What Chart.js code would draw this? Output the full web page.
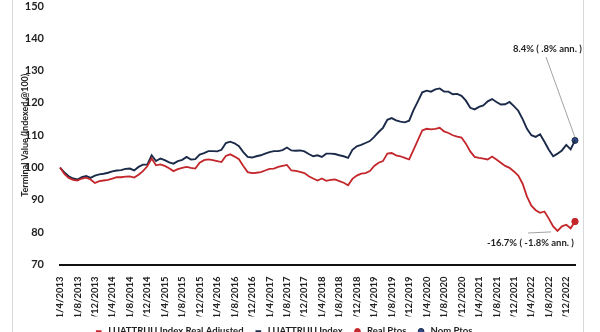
<!DOCTYPE html>
<html>
<head>
<meta charset="utf-8">
<script src="https://cdn.jsdelivr.net/npm/chart.js@4/dist/chart.umd.min.js"></script>
<style>
  html, body { margin: 0; padding: 0; background: #fff; overflow: hidden; }
  #wrap { position: relative; width: 600px; height: 346px; }
  #frame { position: absolute; left: 12px; top: 0; width: 572px; height: 346px;
           border-left: 1px solid #d8d8d8; border-right: 1px solid #d8d8d8; box-sizing: border-box; pointer-events: none; }
</style>
</head>
<body>
<div id="wrap">
  <canvas id="chart" width="600" height="346"></canvas>
  <div id="frame"></div>
</div>
<script>
// monthly, Apr 2013 .. Feb 2023
const labels = [];
for (let y = 2013, m = 4; !(y === 2023 && m === 3); m++) {
    if (m > 12) { m = 1; y++; }
    labels.push('1/' + m + '/' + y);
}

const nominal = [
    100, 98.5, 97.3, 96.6, 96.3, 97, 97.4, 96.8, 97.5, 97.9, 98.1, 98.4,
    98.8, 99.1, 99.2, 99.6, 99.7, 99.1, 100.2, 100.9, 100.9, 103.8, 102, 102.8,
    102.3, 101.6, 101.2, 102, 102.4, 103.3, 102.5, 102.6, 104, 104.5, 105.1, 105.1,
    105, 105.5, 107.6, 108, 107.5, 106.6, 104.8, 103.3, 103.1, 103.5, 103.8, 104.3,
    104.8, 105.1, 105.1, 105.4, 106.2, 105.3, 105.2, 105.3, 105, 104.2, 103.5, 103.8,
    103.3, 104.3, 104.3, 104.2, 103.8, 103.5, 103, 105.5, 106.6, 107, 107.6, 108.2,
    109.5, 111, 112.3, 114.8, 115.3, 114.6, 114.2, 114, 114.5, 117.8, 120.5, 123.3,
    123.8, 123.5, 124.2, 124.5, 123.5, 123.5, 122.7, 122.8, 122.2, 120.7, 118.5, 118,
    118.8, 119.2, 120.5, 121.2, 120.3, 119.5, 119.6, 120.3, 119, 117.6, 115, 112,
    110, 109.5, 110.3, 108, 105.5, 103.5, 104.3, 105.3, 107, 105.6, 108.4
];

const real = [
    100, 98, 96.8, 96.2, 96, 96.6, 96.9, 96.3, 95.2, 95.8, 96, 96.2,
    96.6, 97, 97, 97.2, 97.3, 96.9, 97.8, 98.9, 100.4, 102.8, 100.7, 101,
    100.5, 99.8, 98.9, 99.5, 99.9, 100.2, 99.9, 99.7, 101.5, 102.3, 102.5, 102.3,
    102, 101.7, 103.6, 104.1, 103.4, 102.6, 100.5, 98.6, 98.3, 98.4, 98.6, 99.1,
    99.6, 99.7, 100.2, 100.5, 100.8, 99.1, 99, 98.7, 98.3, 97.3, 96.6, 96,
    96.6, 95.9, 96.2, 96.3, 95.8, 95.3, 94.5, 96.5, 97.5, 98.1, 98.3, 98.9,
    100.5, 101.5, 102, 104.3, 104.5, 103.8, 103.5, 103, 102.5, 105.5, 108.5, 111.5,
    112, 111.8, 112, 112.3, 111.2, 110.7, 110, 109.6, 109.3, 107.4, 105, 103.3,
    103, 102.8, 102.5, 103.4, 102.5, 101.5, 100.5, 99.9, 98.8, 97.5, 95, 91,
    88.2, 86.8, 86, 86.4, 84.2, 81.8, 80.4, 81.8, 82.3, 81.2, 83.3
];

const yTicks = [70, 80, 90, 100, 110, 120, 130, 140, 150];
const nomNote = '8.4% ( .8% ann. )';
const realNote = '-16.7% ( -1.8% ann. )';

const last = labels.length - 1;
const realPts = real.map((v, i) => i === last ? v : null);
const nomPts = nominal.map((v, i) => i === last ? v : null);

const navy = '#1b2a48';
const red = '#c3272b';
const font = 'Lato, "Liberation Sans", sans-serif';

const notes = {
    id: 'notes',
    afterLayout(chart) {
        // legend starts left of centre in the original
        const lg = chart.legend;
        if (lg) { lg.left = 84; }
    },
    afterDatasetsDraw(chart) {
        const ctx = chart.ctx;
        const x = chart.scales.x, y = chart.scales.y;
        ctx.save();
        ctx.font = 'bold 9.5px ' + font;
        ctx.fillStyle = '#222';
        ctx.textBaseline = 'middle';
        ctx.textAlign = 'left';
        const nx = x.getPixelForValue(last), ny = y.getPixelForValue(nominal[last]);
        ctx.fillText(nomNote, 513, 49);
        ctx.strokeStyle = '#8a8a8a';
        ctx.lineWidth = 0.8;
        ctx.beginPath();
        ctx.moveTo(546, 57);
        ctx.lineTo(nx, ny - 3);
        ctx.stroke();
        const mx = x.getPixelForValue(113), my = y.getPixelForValue(real[114]);
        ctx.fillText(realNote, 487, 243);
        ctx.beginPath();
        ctx.moveTo(528, 233);
        ctx.lineTo(mx - 2, my + 1);
        ctx.stroke();
        ctx.restore();
    }
};

new Chart(document.getElementById('chart'), {
    type: 'line',
    data: {
        labels: labels,
        datasets: [
            {
                label: 'LUATTRUU Index Real Adjusted',
                data: real,
                borderColor: red,
                backgroundColor: red,
                borderWidth: 1.8,
                pointRadius: 0,
                pointStyle: 'line',
                tension: 0
            },
            {
                label: 'LUATTRUU Index',
                data: nominal,
                borderColor: navy,
                backgroundColor: navy,
                borderWidth: 1.9,
                pointRadius: 0,
                pointStyle: 'line',
                tension: 0
            },
            {
                label: 'Real Ptos',
                data: realPts,
                showLine: false,
                pointStyle: 'circle',
                pointRadius: 3.2,
                borderColor: red,
                backgroundColor: red
            },
            {
                label: 'Nom Ptos',
                data: nomPts,
                showLine: false,
                pointStyle: 'circle',
                pointRadius: 3,
                borderColor: navy,
                backgroundColor: '#2e4a86'
            }
        ]
    },
    options: {
        responsive: false,
        animation: false,
        layout: { padding: { left: 18, right: 25, top: 6, bottom: 0 } },
        plugins: {
            tooltip: { enabled: false },
            legend: {
                position: 'bottom',
                align: 'start',
                labels: {
                    usePointStyle: true,
                    boxWidth: 10,
                    boxHeight: 4,
                    padding: 10,
                    color: '#222',
                    font: { family: font, size: 9.5, weight: 'bold' }
                }
            }
        },
        scales: {
            x: {
                grid: { display: false },
                border: { display: true, color: '#111', width: 2 },
                ticks: {
                    autoSkip: false,
                    minRotation: 90,
                    maxRotation: 90,
                    color: '#222',
                    padding: 4,
                    font: { family: font, size: 9.5, weight: 'bold' },
                    callback: (v, i) => i % 4 === 0 ? labels[i] : null
                },
                afterFit: s => { s.height = 52; }
            },
            y: {
                min: 70,
                max: 150,
                afterBuildTicks: s => { s.ticks = yTicks.map(v => ({ value: v })); },
                grid: { display: false },
                border: { display: false },
                ticks: {
                    color: '#222',
                    padding: 8,
                    font: { family: font, size: 11, weight: 'bold' }
                },
                title: {
                    display: true,
                    text: 'Terminal Value (Indexed @100)',
                    color: '#222',
                    padding: 2,
                    font: { family: font, size: 9, weight: 'bold' }
                },
                afterFit: s => { s.width = 42; s.paddingTop = 0; s.paddingBottom = 0; }
            }
        }
    },
    plugins: [notes]
});
</script>
</body>
</html>
